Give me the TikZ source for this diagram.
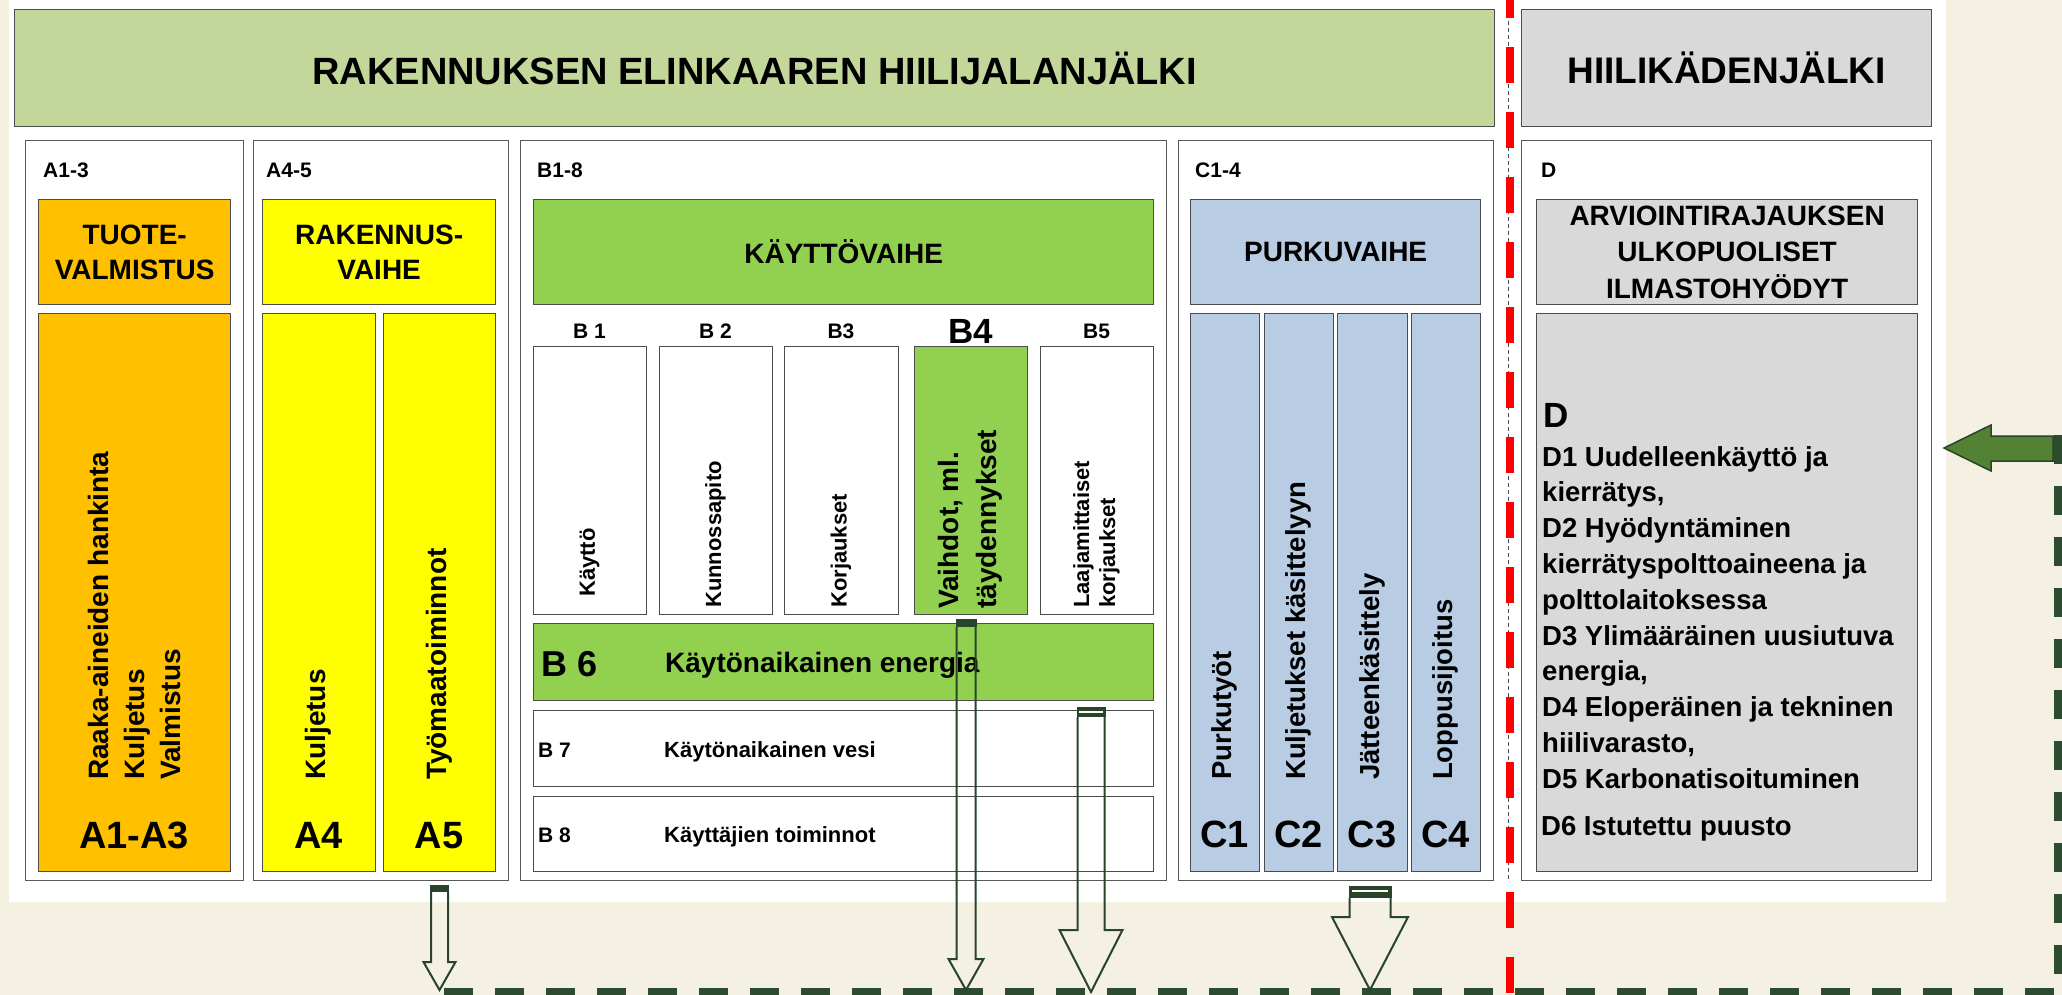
\documentclass[tikz,border=0pt]{standalone}
\usepackage{fontspec}
\setmainfont{Liberation Sans}

\definecolor{bannergreen}{HTML}{C4D79B}
\definecolor{handgrey}{HTML}{D9D9D9}
\definecolor{prodorange}{HTML}{FFC000}
\definecolor{buildyellow}{HTML}{FFFF00}
\definecolor{usegreen}{HTML}{92D050}
\definecolor{endblue}{HTML}{B8CCE4}
\definecolor{paper}{HTML}{F4F0E2}
\definecolor{arrowdark}{HTML}{28452A}
\definecolor{loopgreen}{HTML}{2D4B2F}
\definecolor{backgreen}{HTML}{548235}

\newcommand{\fsz}[2]{\fontsize{#1}{#2}\selectfont}
% x, cap top, cap bottom, head start, tip, shaft half, head half
\newcommand{\hollowarrow}[7]{%
  \fill [arrowdark] (#1-#6-1,#2) rectangle (#1+#6+1,#3);
  \draw [arrowdark, line width=2pt, line join=miter] (#1-#6,#3) -- (#1-#6,#4) -- (#1-#7,#4) -- (#1,#5) -- (#1+#7,#4) -- (#1+#6,#4) -- (#1+#6,#3);
}

\begin{document}
\begin{tikzpicture}[x=1pt, y=-1pt,
  phasebox/.style={draw=black!70, line width=1.3pt, anchor=north west, inner sep=0pt, align=center, font=\bfseries\fsz{28}{35}},
  col/.style={phasebox, fill=white, draw=black!65, line width=1pt},
  vtext/.style={rotate=90, anchor=west, inner sep=0pt, align=left, font=\bfseries\fsz{28}{36}},
  lbl/.style={anchor=base west, inner sep=0pt, font=\bfseries\fsz{21}{25}},
  code/.style={anchor=base, inner sep=0pt, font=\bfseries\fsz{38}{40}},
  dtext/.style={anchor=base west, inner sep=0pt, font=\bfseries\fsz{27.5}{36}}]

  \useasboundingbox (0,0) rectangle (2062,995);
  \fill [paper] (0,0) rectangle (2062,995);
  \fill [white] (9,0) rectangle (1946,902);

  % headlines
  \node (foot) [phasebox, fill=bannergreen, minimum width=1480pt, minimum height=117pt, font=\bfseries\fsz{38}{40}] at (14,9) {RAKENNUKSEN ELINKAAREN HIILIJALANJÄLKI};
  \node (hand) [phasebox, fill=handgrey, minimum width=410pt, minimum height=117pt, font=\bfseries\fsz{37}{40}] at (1521,9) {HIILIKÄDENJÄLKI};

  % stage columns
  \node (colA13) [col, minimum width=218pt, minimum height=740pt] at (25,140) {};
  \node (colA45) [col, minimum width=255pt, minimum height=740pt] at (253,140) {};
  \node (colB) [col, minimum width=646pt, minimum height=740pt] at (520,140) {};
  \node (colC) [col, minimum width=315pt, minimum height=740pt] at (1178,140) {};
  \node (colD) [col, minimum width=410pt, minimum height=740pt] at (1521,140) {};
  \node (lblA13) [lbl] at (43,178) {A1-3};
  \node (lblA45) [lbl] at (266,178) {A4-5};
  \node (lblB) [lbl] at (537,178) {B1-8};
  \node (lblC) [lbl] at (1195,178) {C1-4};
  \node (lblD) [lbl] at (1541,178) {D};

  % stage headers
  \node (hdrA13) [phasebox, fill=prodorange, minimum width=192pt, minimum height=105pt] at (38,199) {TUOTE-\\VALMISTUS};
  \node (hdrA45) [phasebox, fill=buildyellow, minimum width=233pt, minimum height=105pt] at (262,199) {RAKENNUS-\\VAIHE};
  \node (hdrB) [phasebox, fill=usegreen, minimum width=620pt, minimum height=105pt] at (533,199) {KÄYTTÖVAIHE};
  \node (hdrC) [phasebox, fill=endblue, minimum width=290pt, minimum height=105pt] at (1190,199) {PURKUVAIHE};
  \node (hdrD) [phasebox, fill=handgrey, minimum width=381pt, minimum height=105pt, font=\bfseries\fsz{28}{36.5}] at (1536,199) {ARVIOINTIRAJAUKSEN\\ULKOPUOLISET\\ILMASTOHYÖDYT};

  % A modules
  \node (lowA13) [phasebox, fill=prodorange, minimum width=192pt, minimum height=558pt] at (38,313) {};
  \node (lowA4) [phasebox, fill=buildyellow, minimum width=113pt, minimum height=558pt] at (262,313) {};
  \node (lowA5) [phasebox, fill=buildyellow, minimum width=112pt, minimum height=558pt] at (383,313) {};
  \node (tA13) [vtext] at (134,780) {Raaka-aineiden hankinta\\Kuljetus\\Valmistus};
  \node (tA4) [vtext] at (318.5,780) {Kuljetus};
  \node (tA5) [vtext] at (439,780) {Työmaatoiminnot};
  \node (cA13) [code] at (134,848) {A1-A3};
  \node (cA4) [code] at (318.5,848) {A4};
  \node (cA5) [code] at (439,848) {A5};

  % B modules
  \node (b1) [phasebox, fill=white, minimum width=113pt, minimum height=268pt] at (533,346) {};
  \node (b2) [phasebox, fill=white, minimum width=113pt, minimum height=268pt] at (659,346) {};
  \node (b3) [phasebox, fill=white, minimum width=114pt, minimum height=268pt] at (784,346) {};
  \node (b4) [phasebox, fill=usegreen, minimum width=113pt, minimum height=268pt] at (914,346) {};
  \node (b5) [phasebox, fill=white, minimum width=113pt, minimum height=268pt] at (1040,346) {};
  \node (lblB1) [lbl, anchor=base] at (589.5,338) {B 1};
  \node (lblB2) [lbl, anchor=base] at (715.5,338) {B 2};
  \node (lblB3) [lbl, anchor=base] at (841,338) {B3};
  \node (lblB4) [lbl, anchor=base, font=\bfseries\fsz{35}{38}] at (970.5,343) {B4};
  \node (lblB5) [lbl, anchor=base] at (1096.5,338) {B5};
  \node (tB1) [vtext, font=\bfseries\fsz{22}{26}] at (589.5,597) {Käyttö};
  \node (tB2) [vtext, font=\bfseries\fsz{22}{26}] at (715.5,608) {Kunnossapito};
  \node (tB3) [vtext, font=\bfseries\fsz{22}{26}] at (841,608) {Korjaukset};
  \node (tB4) [vtext, font=\bfseries\fsz{28}{38}] at (970.5,609) {Vaihdot, ml.\\täydennykset};
  \node (tB5) [vtext, font=\bfseries\fsz{22}{26}] at (1096.5,608) {Laajamittaiset\\korjaukset};
  \node (b6) [phasebox, fill=usegreen, minimum width=620pt, minimum height=77pt] at (533,623) {};
  \node (b7) [phasebox, fill=white, minimum width=620pt, minimum height=76pt] at (533,710) {};
  \node (b8) [phasebox, fill=white, minimum width=620pt, minimum height=75pt] at (533,796) {};
  \node (nB6) [lbl, font=\bfseries\fsz{36}{40}] at (541,676) {B 6};
  \node (tB6) [lbl, font=\bfseries\fsz{28}{30}] at (665,672) {Käytönaikainen energia};
  \node (nB7) [lbl] at (538,757) {B 7};
  \node (tB7) [lbl, font=\bfseries\fsz{22}{26}] at (664,757) {Käytönaikainen vesi};
  \node (nB8) [lbl] at (538,842) {B 8};
  \node (tB8) [lbl, font=\bfseries\fsz{22}{26}] at (664,842) {Käyttäjien toiminnot};

  % C modules
  \node (c1) [phasebox, fill=endblue, minimum width=69pt, minimum height=558pt] at (1190,313) {};
  \node (c2) [phasebox, fill=endblue, minimum width=69pt, minimum height=558pt] at (1264,313) {};
  \node (c3) [phasebox, fill=endblue, minimum width=70pt, minimum height=558pt] at (1337,313) {};
  \node (c4) [phasebox, fill=endblue, minimum width=69pt, minimum height=558pt] at (1411,313) {};
  \node (tC1) [vtext, font=\bfseries\fsz{27.5}{36}] at (1224.5,780) {Purkutyöt};
  \node (tC2) [vtext, font=\bfseries\fsz{27.5}{36}] at (1298.5,780) {Kuljetukset käsittelyyn};
  \node (tC3) [vtext, font=\bfseries\fsz{27.5}{36}] at (1372,780) {Jätteenkäsittely};
  \node (tC4) [vtext, font=\bfseries\fsz{27.5}{36}] at (1445.5,780) {Loppusijoitus};
  \node (cC1) [code] at (1224.5,847) {C1};
  \node (cC2) [code] at (1298.5,847) {C2};
  \node (cC3) [code] at (1372,847) {C3};
  \node (cC4) [code] at (1445.5,847) {C4};

  % D module
  \node (lowD) [phasebox, fill=handgrey, minimum width=381pt, minimum height=558pt] at (1536,313) {};
  \node (dhead) [lbl, font=\bfseries\fsz{35}{38}] at (1543,427) {D};
  \foreach \txt [count=\i from 0] in {D1 Uudelleenkäyttö ja, {kierrätys,}, D2 Hyödyntäminen, kierrätyspolttoaineena ja, polttolaitoksessa, D3 Ylimääräinen uusiutuva, {energia,}, D4 Eloperäinen ja tekninen, {hiilivarasto,}, D5 Karbonatisoituminen}
    \node (dline\i) [dtext] at (1542,466+35.8*\i) {\txt};
  \node (dline10) [dtext] at (1541,835) {D6 Istutettu puusto};

  % boundary between footprint and handprint
  \draw [black!70, line width=1pt, dash pattern=on 4pt off 3pt] (1508,0) -- (1508,880);
  \draw [red, line width=8pt, dash pattern=on 36pt off 29pt, dash phase=18pt] (1510,0) -- (1510,995);

  % return loop to D
  \coordinate (loopTop) at (2058,435);
  \coordinate (loopCorner) at (2058,992);
  \coordinate (loopEnd) at (439,992);
  \draw [loopgreen, line width=8pt, dash pattern=on 29pt off 22pt] (loopTop) -- (loopCorner) -- (loopEnd);
  \draw [fill=backgreen, draw=arrowdark, line width=1.5pt] (1944,448) -- (1991,425) -- (1991,436) -- (2053,436) -- (2053,461) -- (1991,461) -- (1991,471) -- cycle;

  % flows out of the stages
  \hollowarrow{439.5}{885}{892}{962}{990}{8.5}{16}
  \hollowarrow{966}{619}{627}{959}{990}{9.5}{17.5}
  \hollowarrow{1091}{707}{717}{930}{992}{13.5}{31.5}
  \hollowarrow{1370}{886}{898}{917}{990}{20.5}{38}
  \draw [white, line width=1.2pt] (1079,712) -- (1103,712);
  \draw [white, line width=1.2pt] (1352,891) -- (1388,891);
\end{tikzpicture}
\end{document}
